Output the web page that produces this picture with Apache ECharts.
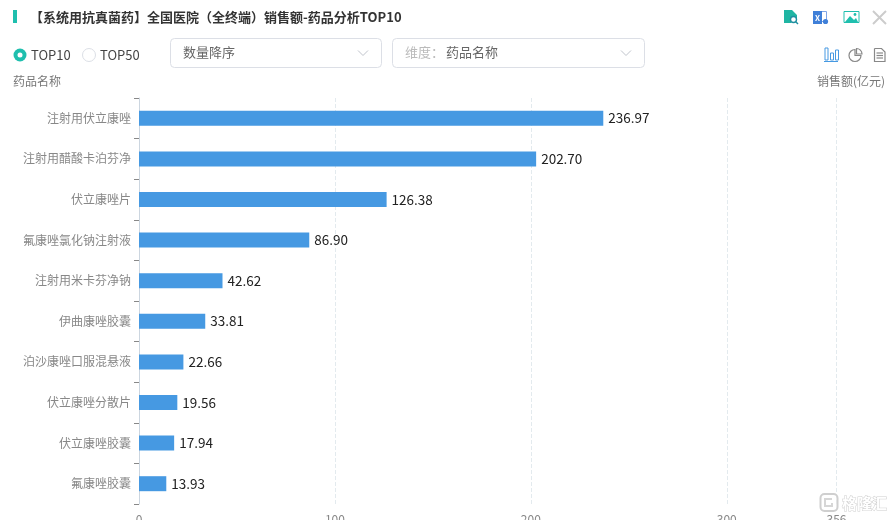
<!DOCTYPE html>
<html>
<head>
<meta charset="utf-8" />
<title>药品分析TOP10</title>
<script src="https://cdn.jsdelivr.net/npm/echarts@6/dist/echarts.min.js"></script>
<style>
html, body { margin: 0; padding: 0; background: #fff; overflow: hidden; }
#chart { width: 894px; height: 520px; }
</style>
</head>
<body>
<div id="chart"></div>
<script>
var FONT = '"Noto Sans CJK SC", "Noto Sans", sans-serif';
var categories = ['注射用伏立康唑', '注射用醋酸卡泊芬净', '伏立康唑片', '氟康唑氯化钠注射液', '注射用米卡芬净钠',
  '伊曲康唑胶囊', '泊沙康唑口服混悬液', '伏立康唑分散片', '伏立康唑胶囊', '氟康唑胶囊'];
var sales = [236.97, 202.70, 126.38, 86.90, 42.62, 33.81, 22.66, 19.56, 17.94, 13.93];
var axisMax = 356;
var axisStep = 100;

function label(x, y, text, color, size, align, weight) {
  return {
    type: 'text', x: x, y: y, silent: true,
    style: { text: text, fill: color, font: (weight || 'normal') + ' ' + size + 'px ' + FONT, textAlign: align || 'left', textVerticalAlign: 'middle' }
  };
}
function box(x, y, w, h, fill, stroke, r) {
  return { type: 'rect', shape: { x: x, y: y, width: w, height: h, r: r || 0 }, style: { fill: fill, stroke: stroke || null, lineWidth: 1 }, silent: true };
}
function line(points, color, w) {
  return { type: 'polyline', shape: { points: points }, style: { fill: null, stroke: color, lineWidth: w || 1 }, silent: true };
}
function solid(points, color) {
  return { type: 'polygon', shape: { points: points }, style: { fill: color }, silent: true };
}
function dot(x, y, r, fill, stroke, w) {
  return { type: 'circle', shape: { cx: x, cy: y, r: r }, style: { fill: fill, stroke: stroke || null, lineWidth: w || 1 }, silent: true };
}
function pie(x, y, r, a0, a1, color) {
  return { type: 'sector', shape: { cx: x, cy: y, r: r, startAngle: a0, endAngle: a1 }, style: { fill: '#fff', stroke: color, lineWidth: 1.2 }, silent: true };
}

var header = [
  box(13, 10, 4, 13, '#1fbfae'),
  label(30, 17, '【系统用抗真菌药】全国医院（全终端）销售额-药品分析TOP10', '#333', 13, 'left', 'bold'),

  // toolbar icons
  solid([[784, 10], [792, 10], [797, 15], [797, 19], [793, 19], [791, 23], [784, 23]], '#1fb5a3'),
  dot(793.5, 19.5, 3, '#fff', '#1f8fa0', 1.4),
  line([[795.5, 21.5], [798, 24]], '#1f8fa0', 1.4),
  box(821.5, 11.5, 5, 10, '#fff', '#7fa6e6'),
  box(813, 11, 9, 13, '#3f7fd8'),
  label(815, 17.5, 'X', '#fff', 8, 'left', 'bold'),
  dot(825.5, 21.5, 2.6, '#3f7fd8'),
  box(844, 11.5, 15, 11, '#fff', '#1fbfae'),
  solid([[845, 22], [850, 16], [854, 20], [856, 18], [858, 22]], '#1fbfae'),
  dot(855, 14.5, 1.4, '#1fbfae'),
  line([[873, 11], [886, 24]], '#cccccc', 2),
  line([[886, 11], [873, 24]], '#cccccc', 2),

  // radios
  dot(20, 55, 6.5, '#1fbfae'),
  dot(20, 55, 2.5, '#fff'),
  label(31, 55, 'TOP10', '#444', 13),
  dot(89, 55, 6.5, '#fff', '#dcdfe6'),
  label(100, 55, 'TOP50', '#444', 13),

  // selects
  box(170.5, 38.5, 211, 29, '#fff', '#dcdfe6', 4),
  label(183, 52, '数量降序', '#666', 13),
  line([[358, 50.5], [363, 55.5], [368, 50.5]], '#c0c4cc', 1),
  box(392.5, 38.5, 252, 29, '#fff', '#dcdfe6', 4),
  label(405, 52, '维度：', '#bbb', 13),
  label(446, 52, '药品名称', '#666', 13),
  line([[621, 50.5], [626, 55.5], [631, 50.5]], '#c0c4cc', 1),

  // chart type switches
  box(825, 48, 3, 12, '#fff', '#4699e2'),
  box(830.5, 53, 3, 7, '#fff', '#4699e2'),
  box(835.5, 50, 3, 10, '#fff', '#4699e2'),
  line([[824, 61.5], [838, 61.5]], '#4699e2', 1),
  pie(855, 55.5, 6, 0, Math.PI * 1.5, '#888'),
  pie(856.5, 54, 5.5, -Math.PI / 2, 0, '#888'),
  line([[874.5, 48.5], [881.5, 48.5], [885, 52], [885, 61.5], [874.5, 61.5], [874.5, 48.5]], '#888', 1.2),
  line([[876.5, 53], [883, 53]], '#888', 1.2),
  line([[876.5, 55.5], [883, 55.5]], '#888', 1.2),
  line([[876.5, 58], [883, 58]], '#888', 1.2),

  // axis names
  label(13, 81, '药品名称', '#777', 12),
  label(885, 81, '销售额(亿元)', '#777', 12, 'right'),

  // watermark
  {
    type: 'rect', shape: { x: 820.5, y: 494, width: 17, height: 17, r: 4 }, silent: true, z: 20,
    style: { fill: 'rgba(255,255,255,0.6)', stroke: '#cfcfcf', lineWidth: 2 }
  },
  {
    type: 'polyline', shape: { points: [[832, 499], [825, 499], [825, 506], [832, 506], [832, 503]] }, silent: true, z: 20,
    style: { fill: null, stroke: '#d6d6d6', lineWidth: 2 }
  },
  {
    type: 'text', x: 842, y: 503, silent: true, z: 20,
    style: { text: '格隆汇', fill: '#fff', stroke: '#cfcfcf', lineWidth: 1, font: 'bold 15px ' + FONT, textVerticalAlign: 'middle' }
  }
];

var myChart = echarts.init(document.getElementById('chart'), null, { renderer: 'canvas' });
myChart.setOption({
  animation: false,
  backgroundColor: '#fff',
  textStyle: { fontFamily: FONT },
  grid: { left: 139, top: 98, width: 697.5, height: 406, outerBoundsMode: 'none' },
  xAxis: {
    type: 'value', min: 0, max: axisMax, interval: axisStep,
    axisLine: { show: false },
    axisTick: { show: false },
    axisLabel: { color: '#888', fontSize: 12, margin: 9, showMaxLabel: true },
    splitLine: { show: true, lineStyle: { color: '#e3eaee', type: 'dashed', width: 1 } }
  },
  yAxis: {
    type: 'category', inverse: true, data: categories,
    axisLine: { show: true, lineStyle: { color: '#ccd6e0' } },
    axisTick: { show: true, length: 5, alignWithLabel: false, lineStyle: { color: '#888' } },
    axisLabel: { color: '#888', fontSize: 12, margin: 8 },
    splitLine: { show: false }
  },
  series: [{
    type: 'bar', data: sales, barWidth: 15,
    itemStyle: { color: '#4699e2' },
    label: {
      show: true, position: 'right', distance: 5, color: '#222', fontSize: 13.5,
      formatter: function (p) { return p.value.toFixed(2); }
    }
  }],
  graphic: { elements: header }
});
</script>
</body>
</html>
